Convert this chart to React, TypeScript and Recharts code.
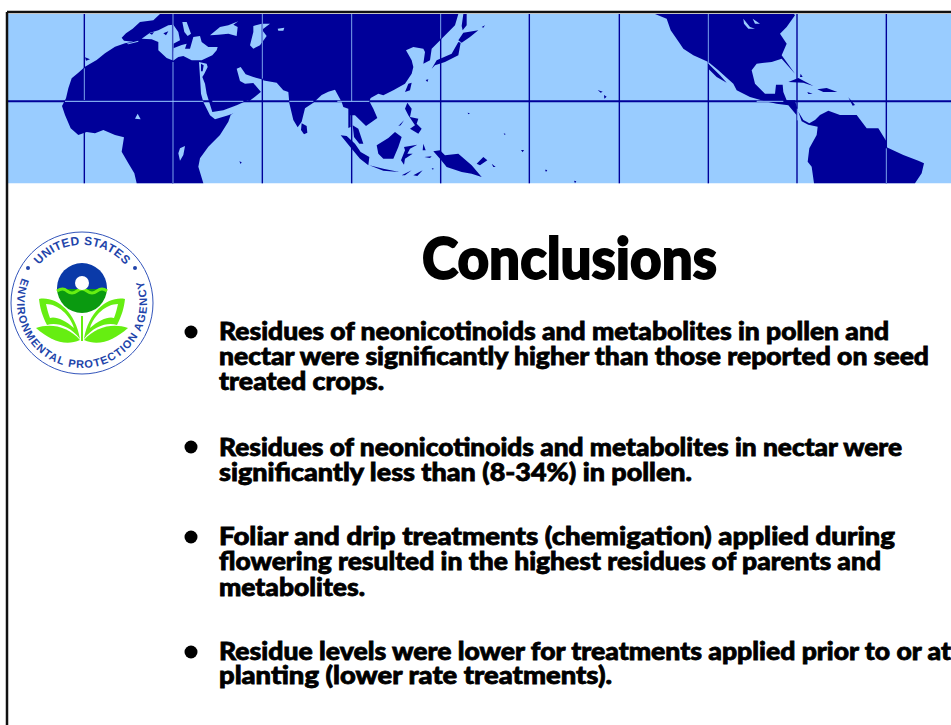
import { Area, ComposedChart, Line, XAxis, YAxis } from 'recharts';

const NAVY = '#000099';
const SKY = '#99CCFF';
const FONT = 'Lato, "Open Sans", sans-serif';

const ocean = [[24, 42], [2853, 42], [2853, 550], [24, 550]];

const afroEurasia = [
  [480, 42], [460, 61], [420, 66], [398, 86], [378, 100], [365, 113], [372, 122], [400, 125], [375, 130], [345, 140],
  [315, 160], [290, 180], [255, 200], [235, 218], [215, 235], [205, 265], [198, 295], [186, 318], [195, 345], [212, 385],
  [235, 405], [260, 396], [285, 400], [310, 390], [345, 405], [372, 412], [365, 455], [385, 490], [403, 520], [410, 550],
  [610, 550], [595, 500], [600, 475], [625, 440], [660, 405], [685, 365], [692, 345], [745, 305], [765, 290], [785, 274],
  [787, 241], [830, 248], [850, 271], [865, 276], [868, 310], [880, 360], [893, 382], [905, 365], [915, 325], [940, 308],
  [965, 285], [985, 275], [1005, 269], [1025, 306], [1030, 321], [1045, 326], [1045, 384], [1052, 381], [1052, 346], [1065, 346],
  [1098, 378], [1132, 354], [1120, 326], [1108, 304], [1112, 294], [1135, 281], [1150, 286], [1180, 271], [1215, 251], [1235, 221],
  [1240, 201], [1235, 181], [1218, 151], [1240, 141], [1270, 146], [1275, 156], [1270, 191], [1290, 181], [1295, 146], [1325, 116],
  [1365, 76], [1375, 42],
];
const northAmerica = [
  [1965, 42], [2000, 56], [2012, 91], [2040, 131], [2050, 146], [2080, 166], [2125, 186], [2155, 211], [2200, 251], [2210, 271],
  [2250, 291], [2295, 304], [2330, 311], [2365, 316], [2390, 346], [2392, 326], [2385, 301], [2360, 301], [2350, 276], [2348, 254],
  [2328, 254], [2325, 281], [2295, 281], [2265, 251], [2255, 211], [2270, 191], [2315, 186], [2345, 176], [2385, 221], [2345, 166],
  [2360, 131], [2340, 101], [2360, 81], [2385, 46], [2382, 42],
];
const southAmerica = [
  [2395, 335], [2410, 360], [2428, 370], [2445, 360], [2460, 345], [2485, 332], [2520, 345], [2570, 345], [2600, 385], [2635, 385],
  [2660, 425], [2660, 442], [2710, 465], [2755, 482], [2772, 490], [2765, 520], [2745, 550], [2442, 550], [2435, 500], [2423, 485],
  [2428, 445], [2450, 405], [2453, 380], [2425, 374], [2405, 364],
];
const islands = [
  // Asia and the Pacific side
  [[905, 370], [920, 378], [922, 398], [912, 403], [903, 390]],
  [[1225, 251], [1235, 248], [1230, 271], [1215, 276]],
  [[1277, 240], [1285, 238], [1282, 246]],
  [[1295, 206], [1310, 181], [1355, 161], [1375, 126], [1382, 128], [1375, 166], [1335, 186], [1305, 196]],
  [[1375, 121], [1390, 98], [1435, 91], [1410, 111], [1385, 128]],
  [[1390, 42], [1400, 42], [1400, 76], [1388, 91], [1385, 78]],
  [[1445, 81], [1455, 76], [1450, 83]],
  [[1022, 406], [1040, 408], [1065, 431], [1082, 456], [1108, 471], [1105, 496], [1080, 476], [1055, 446]],
  [[1058, 376], [1075, 386], [1090, 431], [1078, 431], [1062, 411]],
  [[1108, 496], [1150, 506], [1198, 516], [1150, 512]],
  [[1130, 436], [1165, 414], [1185, 396], [1205, 411], [1195, 441], [1180, 476], [1150, 476], [1135, 461]],
  [[1212, 441], [1252, 434], [1230, 446], [1222, 461], [1238, 461], [1215, 476], [1212, 494], [1203, 481], [1215, 451]],
  [[1222, 308], [1235, 326], [1230, 351], [1255, 356], [1250, 371], [1265, 386], [1255, 401], [1230, 386], [1245, 376], [1225, 346], [1215, 326]],
  [[1195, 378], [1212, 361], [1202, 376]],
  [[1300, 454], [1320, 451], [1335, 466], [1375, 461], [1415, 496], [1445, 531], [1415, 521], [1385, 516], [1340, 501], [1320, 476]],
  [[1205, 526], [1235, 511], [1215, 526]],
  [[1240, 526], [1268, 511], [1252, 528]],
  [[1270, 431], [1277, 451], [1268, 451]],
  [[1273, 471], [1295, 469], [1290, 474]],
  [[1295, 504], [1302, 506], [1298, 509]],
  [[718, 484], [725, 487], [722, 492]],
  [[1403, 338], [1410, 340], [1405, 343]],
  [[1430, 491], [1450, 471], [1462, 481], [1440, 496]],
  [[1475, 491], [1487, 501], [1480, 501]],
  [[1511, 400], [1517, 402], [1514, 405]],
  [[1563, 450], [1572, 450], [1568, 457]],
  [[1635, 509], [1642, 510], [1638, 516]],
  [[1722, 542], [1729, 544], [1725, 550]],
  [[1793, 270], [1808, 275], [1802, 278]],
  [[1812, 285], [1820, 290], [1813, 296]],
  // Americas side
  [[2125, 191], [2160, 226], [2180, 248], [2150, 231], [2125, 206]],
  [[2365, 246], [2395, 234], [2440, 258], [2410, 248]],
  [[2452, 268], [2480, 264], [2512, 276], [2470, 276]],
  [[2422, 276], [2438, 281], [2425, 282]],
  [[2402, 221], [2408, 231], [2400, 231]],
  [[2545, 292], [2565, 315], [2558, 317]],
  // on top of the Mediterranean and the Red Sea
  [[255, 172], [270, 178], [258, 182]],
  [[448, 100], [462, 96], [456, 104]],
  [[490, 100], [505, 94], [498, 106]],
  [[603, 191], [611, 196], [608, 214], [603, 214]],
];
const innerWaters = [
  // Gibraltar
  [[380, 131], [415, 122], [415, 125], [385, 133]],
  // Mediterranean west and east, Adriatic
  [[425, 116], [450, 98], [475, 91], [505, 76], [520, 74], [535, 96], [540, 121], [520, 131], [517, 181], [500, 174], [475, 151], [475, 126], [455, 118]],
  [[520, 145], [545, 135], [560, 131], [555, 146], [570, 146], [580, 111], [600, 108], [605, 126], [625, 141], [653, 141], [650, 151], [637, 166], [605, 181], [575, 181], [550, 168], [535, 171], [517, 184]],
  [[547, 66], [560, 66], [573, 101], [563, 108], [553, 96]],
  // Black Sea, Caspian, Aral
  [[630, 106], [660, 81], [685, 76], [715, 64], [700, 74], [713, 81], [710, 108], [685, 101], [655, 104]],
  [[760, 78], [785, 71], [810, 71], [790, 86], [787, 91], [800, 108], [780, 136], [760, 146], [750, 136], [760, 96]],
  [[833, 86], [853, 83], [850, 92], [835, 92]],
  // Red Sea and Gulf of Aden
  [[597, 186], [620, 191], [623, 201], [613, 221], [607, 231], [615, 251], [620, 281], [637, 336], [670, 331], [710, 316], [745, 300], [745, 325], [725, 331], [685, 346], [645, 358], [630, 346], [610, 306], [603, 281], [600, 231]],
  // Persian Gulf
  [[710, 206], [722, 201], [737, 223], [760, 231], [790, 239], [792, 276], [783, 276], [760, 249], [735, 251], [720, 243]],
  // Lakes
  [[555, 438], [550, 465], [540, 482], [535, 460], [540, 445]],
  [[413, 341], [422, 358], [405, 356]],
  [[2230, 56], [2250, 81], [2265, 86], [2245, 86], [2232, 71]],
  [[2258, 56], [2280, 71], [2265, 71]],
];

const meridians = [253, 518, 787, 1055, 1322, 1588, 1858, 2125, 2391, 2659];
const equator = 304;
// stretches where a grid line crosses land and shows light
const lightMeridians = [
  [519, 42, 181], [519, 186, 550], [253, 205, 300], [787, 42, 236],
  [1055, 42, 304], [1322, 42, 116], [2125, 42, 192], [2392, 326, 361], [2659, 445, 550],
];
const lightEquator = [[195, 610], [637, 730], [868, 940], [1012, 1108], [2270, 2350]];

const title = 'Conclusions';
const slideLines = [
  'Residues of neonicotinoids and metabolites in pollen and',
  'nectar were significantly higher than those reported on seed',
  'treated crops.',
  'Residues of neonicotinoids and metabolites in nectar were',
  'significantly less than (8-34%) in pollen.',
  'Foliar and drip treatments (chemigation) applied during',
  'flowering resulted in the highest residues of parents and',
  'metabolites.',
  'Residue levels were lower for treatments applied prior to or at',
  'planting (lower rate treatments).',
];

// layout of the slide text, in pixels
const lineBaselines = [340, 365, 390, 456, 481, 545, 570, 596, 660, 684];
const lineWidths = [670, 710, 165, 683, 473, 676, 662, 146, 732, 393];
const bulletCentres = [332, 447, 537, 652];

const closeRing = (points: number[][]) =>
  [...points, points[0]].map(([x, y]) => ({ x, y }));

const polygon = (points: number[][], fill: string, key: string) => (
  <Area
    key={key}
    data={closeRing(points)}
    dataKey="y"
    type="linear"
    baseValue={0}
    fill={fill}
    fillOpacity={1}
    stroke="none"
    dot={false}
    activeDot={false}
    isAnimationActive={false}
  />
);

const gridLine = (points: number[][], stroke: string, width: number, key: string) => (
  <Line
    key={key}
    data={points.map(([x, y]) => ({ x, y }))}
    dataKey="y"
    type="linear"
    stroke={stroke}
    strokeWidth={width}
    dot={false}
    activeDot={false}
    isAnimationActive={false}
  />
);

function EpaSeal() {
  const leaf = (
    <g>
      <path d="M39 299C55 296 75 310 80 339C70 325 55 322 47 325C42 315 40 308 39 299Z" fill="#66EE11" />
      <path d="M46 304C58 304 70 315 74 328C65 320 55 316 50 318C48 313 47 308 46 304Z" fill="#fff" />
      <path d="M36 328C50 323 68 326 80 340C65 347 50 340 36 328Z" fill="#66EE11" />
    </g>
  );
  return (
    <g>
      <circle cx={82} cy={303} r={71} fill="#fff" stroke="#3355bb" strokeWidth={1} />
      <defs>
        <path id="sealTop" d="M39 265A56 56 0 0 1 125 265" />
        <path id="sealBottom" d="M22 278A65 65 0 1 0 142 278" />
        <clipPath id="globeTop"><rect x={50} y={255} width={64} height={34} /></clipPath>
        <clipPath id="globeBottom"><rect x={50} y={289} width={64} height={34} /></clipPath>
      </defs>
      <text fontFamily="Liberation Sans" fontWeight={700} fontSize={12} fill="#2244AA">
        <textPath href="#sealTop" textLength={98}>UNITED STATES</textPath>
      </text>
      <text fontFamily="Liberation Sans" fontWeight={700} fontSize={11} fill="#2244AA">
        <textPath href="#sealBottom" textLength={252}>ENVIRONMENTAL PROTECTION AGENCY</textPath>
      </text>
      <circle cx={28} cy={268} r={2} fill="#2244AA" />
      <circle cx={135} cy={268} r={2} fill="#2244AA" />
      <circle cx={82} cy={288} r={25} fill="#0A3AA8" clipPath="url(#globeTop)" />
      <circle cx={82} cy={288} r={25} fill="#0A9A10" clipPath="url(#globeBottom)" />
      <path d="M57 291Q63 287 67 291Q72 295 77 291Q82 287 87 291Q92 295 97 291Q102 287 107 291" fill="none" stroke="#66EE11" strokeWidth={3} />
      <circle cx={82} cy={283} r={7} fill="#fff" />
      {leaf}
      <g transform="translate(164 0) scale(-1 1)">{leaf}</g>
      <rect x={81} y={316} width={2} height={25} fill="#66EE11" />
    </g>
  );
}

export default function App() {
  return (
    <div style={{ position: 'absolute', left: 0, top: 0, width: 951, height: 725, overflow: 'hidden', background: '#fff' }}>
      <ComposedChart width={951} height={725} margin={{ top: 0, right: 0, bottom: 0, left: 0 }}>
        <XAxis dataKey="x" type="number" domain={[0, 2853]} hide />
        <YAxis type="number" domain={[0, 2175]} reversed hide />

        {polygon(ocean, SKY, 'ocean')}
        {polygon(afroEurasia, NAVY, 'afroEurasia')}
        {polygon(northAmerica, NAVY, 'northAmerica')}
        {polygon(southAmerica, NAVY, 'southAmerica')}
        {innerWaters.map((w, i) => polygon(w, SKY, `water${i}`))}
        {islands.map((w, i) => polygon(w, NAVY, `island${i}`))}
        {meridians.map((x) => gridLine([[x, 42], [x, 550]], NAVY, 1.4, `m${x}`))}
        {gridLine([[24, equator], [2853, equator]], NAVY, 2, 'equator')}
        {lightMeridians.map(([x, y1, y2]) => gridLine([[x, y1], [x, y2]], SKY, 0.8, `lm${x}-${y1}`))}
        {lightEquator.map(([x1, x2]) => gridLine([[x1, equator], [x2, equator]], SKY, 1, `le${x1}`))}

        {/* slide frame */}
        {gridLine([[21, 36], [2853, 36]], '#111', 2.5, 'frameTop')}
        {gridLine([[21, 36], [21, 2175]], '#111', 2.5, 'frameLeft')}

        <EpaSeal />

        <text x={422} y={279} fontFamily={FONT} fontWeight={900} fontSize={58} textLength={295} lengthAdjust="spacingAndGlyphs" fill="#000" stroke="#000" strokeWidth={1.8}>
          {title}
        </text>
        {bulletCentres.map((cy) => (
          <circle key={cy} cx={191} cy={cy} r={6.5} fill="#000" />
        ))}
        {slideLines.map((line, i) => (
          <text key={line} x={219} y={lineBaselines[i]} fontFamily={FONT} fontWeight={900} fontSize={25} textLength={lineWidths[i]} lengthAdjust="spacingAndGlyphs" fill="#000" stroke="#000" strokeWidth={0.8}>
            {line}
          </text>
        ))}
      </ComposedChart>
    </div>
  );
}
